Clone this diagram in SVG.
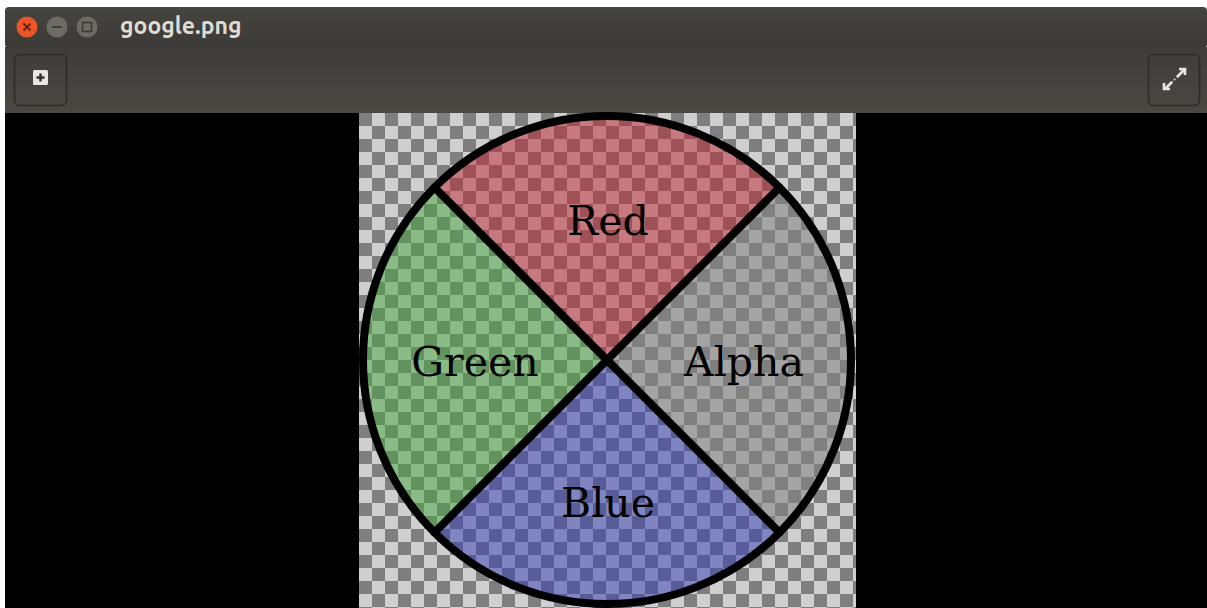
<svg xmlns="http://www.w3.org/2000/svg" width="1207" height="608" viewBox="0 0 1207 608">
<style>
.lbl{font-family:"DejaVu Serif","Liberation Serif",serif;font-size:41px;fill:#000;text-anchor:middle}
.title{font-family:"Ubuntu","DejaVu Sans","Noto Sans",sans-serif;font-weight:bold;font-size:23px;fill:#dfdbd2}
.sep{stroke:#000;stroke-width:8;stroke-linecap:round}
.tbtn{fill:none;stroke:#2c2b28;stroke-width:1.5}
</style>
<defs>
<pattern id="chk" x="359" y="113" width="26" height="26" patternUnits="userSpaceOnUse">
<rect width="26" height="26" fill="#cfcfcf"/>
<rect width="13" height="13" fill="#7f7f7f"/>
<rect x="13" y="13" width="13" height="13" fill="#7f7f7f"/>
</pattern>
<linearGradient id="tb" x1="0" y1="0" x2="0" y2="1">
<stop offset="0" stop-color="#45443f"/>
<stop offset="1" stop-color="#3b3a36"/>
</linearGradient>
<linearGradient id="tool" x1="0" y1="0" x2="0" y2="1">
<stop offset="0" stop-color="#3e3d39"/>
<stop offset="1" stop-color="#4a4843"/>
</linearGradient>
</defs>
<rect width="1207" height="608" fill="#ffffff"/>
<g id="window">
<rect x="5" y="7" width="1202" height="41" rx="4" fill="url(#tb)"/>
<rect x="5" y="47" width="1202" height="66" fill="url(#tool)"/>
<rect x="5" y="113" width="1202" height="495" fill="#000"/>
</g>
<g id="titlebar">
<circle cx="27" cy="27" r="10.5" fill="#e8562a"/>
<path d="M23.5 23.5 L30.5 30.5 M30.5 23.5 L23.5 30.5" stroke="#6b1f0d" stroke-width="1.8"/>
<circle cx="57" cy="27" r="10.5" fill="#6c6b66"/>
<path d="M52 27 H62" stroke="#3a3935" stroke-width="1.8"/>
<circle cx="87" cy="27" r="10.5" fill="#6c6b66"/>
<rect x="82.5" y="22.5" width="9" height="9" fill="none" stroke="#3a3935" stroke-width="1.6"/>
<text class="title" x="120" y="34">google.png</text>
</g>
<g id="toolbar">
<rect class="tbtn" x="14.5" y="54.5" width="52" height="51" rx="5"/>
<rect x="33" y="70" width="15" height="15" rx="1.5" fill="#e8e6e0"/>
<path d="M40.5 73.5 V81.5 M36.5 77.5 H44.5" stroke="#2e2d2a" stroke-width="2.4"/>
<rect class="tbtn" x="1148.5" y="54.5" width="51" height="51" rx="5"/>
<path d="M1177 77 L1184 70 M1179 69 H1185 V75" fill="none" stroke="#e8e6e0" stroke-width="2.6"/>
<path d="M1172 82 L1165 89 M1164 83 V89 H1170" fill="none" stroke="#e8e6e0" stroke-width="2.6"/>
<path d="M1171 83 L1178 76" stroke="#e8e6e0" stroke-width="1.5" stroke-dasharray="2 2"/>
</g>
<g id="image">
<rect x="359" y="113" width="497" height="495" fill="url(#chk)"/>
</g>
<g id="sectors">
<g id="sector-red"><path d="M607 360 L434.5 187.5 A244 244 0 0 1 779.5 187.5 Z" fill="rgb(190,35,45)" fill-opacity="0.5"/></g>
<g id="sector-alpha"><path d="M607 360 L779.5 187.5 A244 244 0 0 1 779.5 532.5 Z" fill="rgb(130,130,130)" fill-opacity="0.55"/></g>
<g id="sector-blue"><path d="M607 360 L779.5 532.5 A244 244 0 0 1 434.5 532.5 Z" fill="rgb(50,60,180)" fill-opacity="0.5"/></g>
<g id="sector-green"><path d="M607 360 L434.5 532.5 A244 244 0 0 1 434.5 187.5 Z" fill="rgb(70,165,60)" fill-opacity="0.5"/></g>
</g>
<g id="connectors">
<line class="sep" x1="434.5" y1="187.5" x2="779.5" y2="532.5"/>
<line class="sep" x1="779.5" y1="187.5" x2="434.5" y2="532.5"/>
<circle cx="607" cy="360" r="244" fill="none" stroke="#000" stroke-width="8"/>
</g>
<g id="labels">
<text class="lbl" x="608" y="235">Red</text>
<text class="lbl" x="475" y="376">Green</text>
<text class="lbl" x="744" y="376">Alpha</text>
<text class="lbl" x="608" y="517">Blue</text>
</g>
</svg>
